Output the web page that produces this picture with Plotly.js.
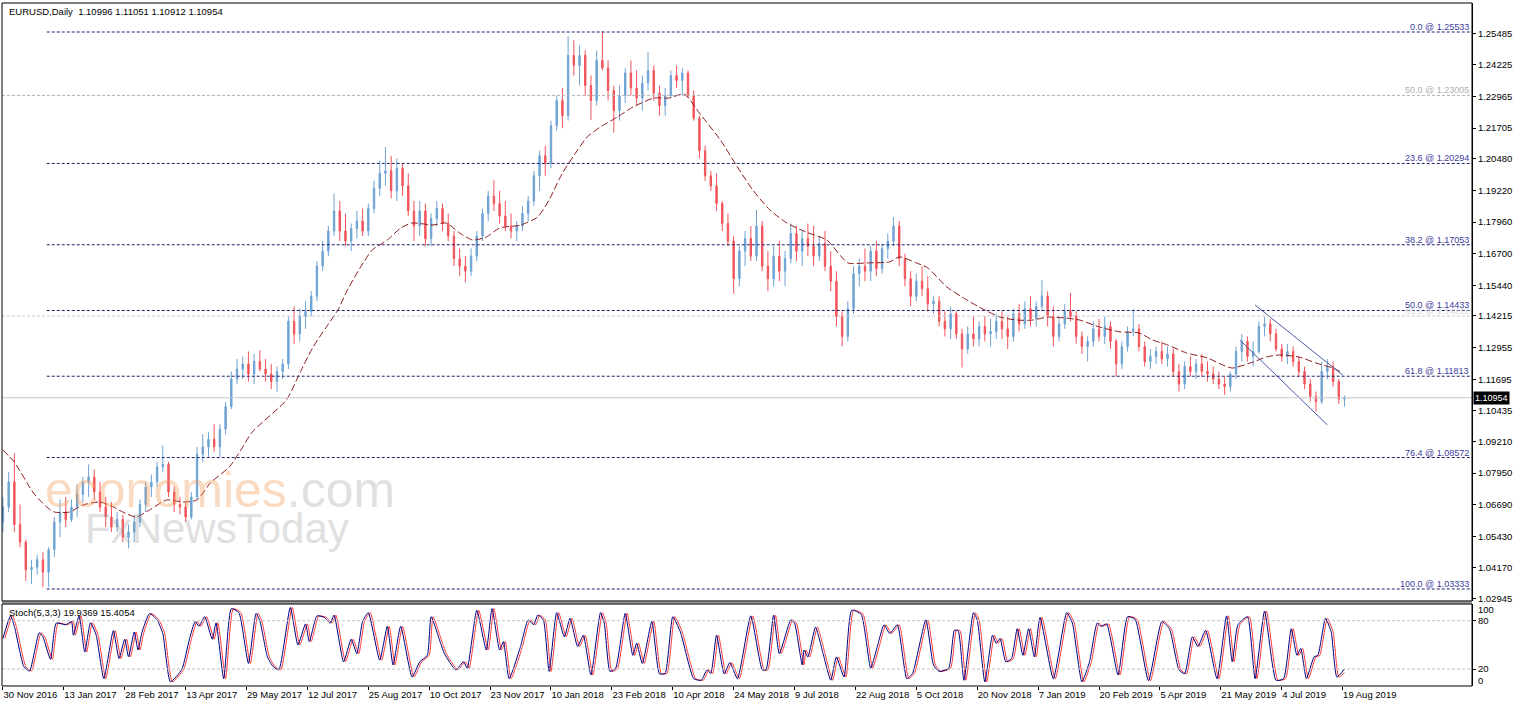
<!DOCTYPE html>
<html>
<head>
<meta charset="utf-8">
<script src="https://cdn.plot.ly/plotly-3.0.1.min.js"></script>
<style>
  html, body { margin: 0; padding: 0; background: #fff; }
  #chart { width: 1515px; height: 706px; }
</style>
</head>
<body>
<div id="chart"></div>
<script>
// EURUSD daily, one candle per 3 bars, prices x 10000
const barStep = 3;
const openP = [
  10600,10660,10760,10590,10520,10410,10420,10450,10400,10490,
  10600,10640,10610,10660,10710,10760,10780,10720,10660,10620,
  10580,10610,10540,10560,10600,10670,10740,10760,10820,10830,
  10720,10670,10660,10620,10700,10870,10900,10930,10900,10970,
  11060,11170,11210,11230,11190,11240,11210,11190,11160,11200,
  11230,11400,11350,11420,11440,11500,11620,11680,11760,11840,
  11760,11720,11770,11800,11760,11850,11930,11990,12000,11920,
  12010,11940,11840,11780,11840,11730,11810,11850,11790,11740,
  11650,11620,11600,11660,11740,11830,11900,11870,11820,11780,
  11760,11780,11830,11880,11980,12060,12030,12180,12280,12220,
  12460,12420,12460,12340,12280,12440,12410,12320,12240,12300,
  12390,12330,12290,12350,12400,12310,12260,12300,12380,12360,
  12390,12300,12210,12080,11980,11940,11870,11790,11720,11570,
  11680,11730,11660,11780,11620,11570,11660,11600,11650,11750,
  11680,11730,11700,11660,11710,11620,11560,11420,11340,11450,
  11590,11620,11600,11680,11610,11690,11720,11780,11650,11570,
  11500,11560,11530,11470,11480,11400,11370,11430,11350,11290,
  11350,11330,11380,11350,11360,11400,11370,11340,11430,11390,
  11450,11410,11460,11500,11420,11340,11390,11440,11420,11340,
  11300,11320,11370,11340,11380,11320,11230,11300,11360,11370,
  11300,11240,11260,11280,11250,11270,11200,11150,11220,11200,
  11230,11200,11190,11170,11150,11140,11190,11280,11320,11260,
  11280,11380,11390,11350,11290,11260,11280,11240,11200,11150,
  11100,11080,11200,11220,11160,11090
];
const highP = [
  10700,10800,10875,10670,10530,10450,10470,10480,10500,10620,
  10690,10700,10690,10750,10780,10830,10810,10760,10700,10680,
  10640,10630,10590,10630,10690,10760,10790,10840,10906,10840,
  10740,10700,10680,10720,10900,10950,10960,10990,10990,11080,
  11200,11250,11260,11280,11270,11285,11250,11230,11220,11250,
  11420,11460,11450,11480,11520,11640,11720,11780,11910,11880,
  11830,11790,11840,11850,11870,11960,12040,12095,12060,12050,
  12030,11990,11880,11880,11870,11830,11880,11870,11830,11760,
  11690,11660,11690,11760,11850,11920,11962,11920,11880,11830,
  11800,11860,11900,12000,12080,12100,12200,12300,12330,12537,
  12520,12500,12480,12380,12480,12556,12440,12340,12340,12410,
  12440,12400,12380,12474,12420,12340,12330,12400,12420,12410,
  12400,12320,12220,12100,12000,11990,11880,11830,11740,11700,
  11760,11780,11844,11800,11680,11700,11720,11680,11790,11780,
  11760,11790,11780,11740,11760,11680,11600,11440,11480,11620,
  11650,11690,11700,11720,11710,11750,11815,11800,11670,11600,
  11590,11620,11580,11500,11500,11440,11460,11440,11370,11380,
  11420,11400,11420,11410,11430,11440,11420,11450,11470,11480,
  11500,11480,11565,11520,11460,11420,11470,11513,11440,11360,
  11340,11400,11410,11420,11400,11330,11320,11380,11448,11390,
  11320,11290,11300,11320,11300,11290,11230,11240,11260,11250,
  11270,11240,11220,11200,11180,11200,11300,11350,11340,11320,
  11400,11418,11410,11370,11310,11310,11300,11260,11220,11170,
  11120,11240,11250,11240,11170,11105
];
const lowP = [
  10560,10640,10560,10500,10365,10352,10390,10340,10341,10460,
  10540,10580,10600,10620,10680,10700,10690,10640,10580,10560,
  10560,10520,10495,10520,10580,10640,10700,10740,10800,10700,
  10640,10630,10600,10610,10690,10840,10860,10880,10860,10950,
  11050,11150,11170,11160,11150,11200,11160,11130,11120,11170,
  11210,11310,11320,11370,11420,11480,11600,11660,11740,11720,
  11700,11680,11730,11740,11740,11830,11900,11940,11890,11880,
  11900,11820,11720,11740,11700,11700,11780,11760,11720,11620,
  11580,11555,11580,11640,11720,11800,11840,11790,11760,11730,
  11720,11760,11800,11860,11920,11980,12010,12160,12170,12200,
  12380,12340,12300,12203,12260,12400,12280,12152,12200,12270,
  12300,12260,12240,12320,12280,12220,12220,12290,12330,12300,
  12290,12200,12050,11960,11920,11840,11760,11700,11510,11540,
  11620,11640,11640,11600,11520,11540,11560,11540,11630,11640,
  11620,11660,11620,11640,11600,11520,11380,11300,11320,11430,
  11540,11560,11560,11580,11590,11650,11700,11620,11540,11460,
  11480,11500,11440,11430,11380,11340,11330,11330,11216,11270,
  11300,11300,11320,11300,11330,11330,11290,11320,11360,11370,
  11380,11380,11440,11380,11300,11320,11370,11400,11310,11270,
  11240,11300,11320,11310,11290,11180,11210,11280,11340,11280,
  11220,11210,11230,11230,11220,11180,11120,11130,11180,11170,
  11180,11160,11150,11130,11107,11120,11170,11240,11240,11220,
  11270,11340,11320,11280,11240,11230,11220,11180,11130,11080,
  11040,11070,11170,11140,11070,11060
];
const closeP = [
  10660,10760,10590,10520,10410,10420,10450,10400,10490,10600,
  10640,10610,10660,10710,10760,10780,10720,10660,10620,10580,
  10610,10540,10560,10600,10670,10740,10760,10820,10830,10720,
  10670,10660,10620,10700,10870,10900,10930,10900,10970,11060,
  11170,11210,11230,11190,11240,11210,11190,11160,11200,11230,
  11400,11350,11420,11440,11500,11620,11680,11760,11840,11760,
  11720,11770,11800,11760,11850,11930,11990,12000,11920,12010,
  11940,11840,11780,11840,11730,11810,11850,11790,11740,11650,
  11620,11600,11660,11740,11830,11900,11870,11820,11780,11760,
  11780,11830,11880,11980,12060,12030,12180,12280,12220,12460,
  12420,12460,12340,12280,12440,12410,12320,12240,12300,12390,
  12330,12290,12350,12400,12310,12260,12300,12380,12360,12390,
  12300,12210,12080,11980,11940,11870,11790,11720,11570,11680,
  11730,11660,11780,11620,11570,11660,11600,11650,11750,11680,
  11730,11700,11660,11710,11620,11560,11420,11340,11450,11590,
  11620,11600,11680,11610,11690,11720,11780,11650,11570,11500,
  11560,11530,11470,11480,11400,11370,11430,11350,11290,11350,
  11330,11380,11350,11360,11400,11370,11340,11430,11390,11450,
  11410,11460,11500,11420,11340,11390,11440,11420,11340,11300,
  11320,11370,11340,11380,11320,11230,11300,11360,11370,11300,
  11240,11260,11280,11250,11270,11200,11150,11220,11200,11230,
  11200,11190,11170,11150,11140,11190,11280,11320,11260,11280,
  11380,11390,11350,11290,11260,11280,11240,11200,11150,11100,
  11080,11200,11220,11160,11090,11095
];

// moving average (bar index, price)
const maX = [0,6,16,23,27,35,42,51,58,63,70,77,86,95,102,109,119,125,131,149,
  156,163,170,176,181,188,194,202,209,215,226,233,240,247,254,261,272,281,287,294,
  302,307,314,323,331,342,350,358,366,377,386,394,403,412,422,433,444,454,466,471,
  480,486,496,504,513,524,533,541,549,559,566,576,587,597,604,612,622,633,641,646,
  657,664,671,681,690,699,704];
const maY = [1.0887,1.0839,1.0716,1.0660,1.0640,1.0640,1.0668,1.0680,1.0660,1.0640,
  1.0620,1.0648,1.0688,1.0680,1.0688,1.0756,1.0820,1.0887,1.0959,1.1087,
  1.1194,1.1298,1.1378,1.1445,1.1525,1.1617,1.1684,1.1724,1.1772,1.1792,
  1.1784,1.1792,1.1752,1.1724,1.1736,1.1772,1.1784,1.1816,1.1884,1.1991,
  1.2083,1.2135,1.2175,1.2215,1.2254,1.2290,1.2290,1.2306,1.2230,1.2123,
  1.2015,1.1924,1.1844,1.1792,1.1756,1.1724,1.1633,1.1633,1.1637,1.1657,
  1.1633,1.1613,1.1537,1.1497,1.1457,1.1417,1.1405,1.1405,1.1417,1.1413,
  1.1405,1.1378,1.1358,1.1354,1.1326,1.1306,1.1274,1.1254,1.1226,1.1214,
  1.1238,1.1258,1.1266,1.1258,1.1234,1.1214,1.1194];

// falling channel drawn in Jun-Aug 2019
const channelUpperX = [658, 704];
const channelUpperY = [1.14652, 1.11862];
const channelLowerX = [650, 696];
const channelLowerY = [1.13257, 1.09870];

// Fibonacci retracement
const fibStartBar = 23;
const fibPct = ['0.0', '23.6', '38.2', '50.0', '61.8', '76.4', '100.0'];
const fibLevel = [1.25533, 1.20294, 1.17053, 1.14433, 1.11813, 1.08572, 1.03333];
const greyFibPct = ['50.0', '61.8'];
const greyFibLevel = [1.23005, 1.14212];
const lastPrice = 1.10954;

// stochastic (5,3,3) turning points
const stochX = [
  0,4,6,11,14,19,21,25,28,33,
  36,37,40,43,46,49,53,58,61,64,
  66,69,71,73,77,81,84,88,94,98,
  101,103,106,110,112,116,120,124,129,133,
  135,139,142,145,151,155,159,161,165,169,
  172,174,179,183,186,189,192,198,202,205,
  209,215,219,223,225,230,232,238,242,244,
  249,254,257,261,263,266,272,276,279,281,
  284,287,291,295,298,302,305,309,314,316,
  319,322,327,331,333,336,341,345,348,352,
  356,363,367,370,372,375,379,382,386,393,
  399,401,405,408,414,416,420,421,423,427,
  431,435,438,442,446,451,456,459,463,466,
  470,475,478,485,489,492,497,500,502,505,
  510,512,516,520,522,524,527,530,533,536,
  539,542,545,552,559,562,567,571,575,577,
  580,586,591,595,602,609,613,618,621,625,
  628,632,638,643,646,649,654,658,663,669,
  673,677,680,682,685,689,691,695,698,701,
  705
];
const stochK = [
  58,86,73,23,17.5,65,60,32,77,75,
  79,62,86,41,77.5,62,8,67.6,33,57,
  35,66,43.6,65,89,81,64,4,19.6,57,
  79,73,85,57,77.5,8,95,90,27,89,
  80,35,23,19,96.5,50,76,54,86,84,
  77,87,29,57,39,79,90,31,73,25,
  73,10,29,37,85,52,39,19,29,21,
  93,43.6,95,43.6,54,8,48,81,75,87,
  81,17,90,60,83,48,62,12.5,90,77,
  17,21,89,37,52,27,79,14,14.6,85,
  66,8,6,19,14.6,62,14,28,8,86,
  19,19,87,39,81,77,25,43.6,35,72,
  39,6,35,10,93,88,21,43.6,75,64,
  75,8,14.6,81,25,17,21,68,67.6,6,
  90,81,4,62,52,58,29,33,70,37,
  70,35,84,8,90,77,4,29,77,73,
  76,12.5,85,81.6,5.5,79,70,19,14,60,
  48,68,8,86,29,75,85,8,92,6,
  8,70,37,45.6,8,35,37,83,66,10,
  19.94
];
const stochDLag = 1;
const stochDLast = 15.41;

const xTickBars = [0,32,64,96,128,160,192,224,256,288,320,352,384,416,448,480,512,544,576,608,640,672,704];
const xTickLabels = ['30 Nov 2016','13 Jan 2017','28 Feb 2017','13 Apr 2017','29 May 2017','12 Jul 2017',
  '25 Aug 2017','10 Oct 2017','23 Nov 2017','10 Jan 2018','23 Feb 2018','10 Apr 2018','24 May 2018',
  '9 Jul 2018','22 Aug 2018','5 Oct 2018','20 Nov 2018','7 Jan 2019','20 Feb 2019','5 Apr 2019',
  '21 May 2019','4 Jul 2019','19 Aug 2019'];
const priceTicks = [1.25485,1.24225,1.22965,1.21705,1.20480,1.19220,1.17960,1.16700,1.15440,1.14215,
  1.12955,1.11695,1.10435,1.09210,1.07950,1.06690,1.05430,1.04170,1.02945];
const stochTicks = [80, 20];
const stochEdgeTicks = [100, 0];

const toPrice = v => v / 10000;
const candleX = openP.map((_, k) => k * barStep);
const xMax = 772;

const FONT = 'Liberation Sans, Arial, sans-serif';
const UP = '#6fa3d4';
const DOWN = '#f2545b';

const traces = [
  {
    type: 'candlestick',
    x: candleX,
    open: openP.map(toPrice),
    high: highP.map(toPrice),
    low: lowP.map(toPrice),
    close: closeP.map(toPrice),
    xaxis: 'x', yaxis: 'y',
    increasing: { line: { color: UP, width: 1 }, fillcolor: UP },
    decreasing: { line: { color: DOWN, width: 1 }, fillcolor: DOWN },
    whiskerwidth: 0,
    hoverinfo: 'skip'
  },
  {
    type: 'scatter', mode: 'lines',
    x: maX, y: maY,
    xaxis: 'x', yaxis: 'y',
    line: { color: '#8b1a1a', width: 1, dash: '7px,3px', shape: 'spline', smoothing: 0.6 },
    hoverinfo: 'skip'
  },
  {
    type: 'scatter', mode: 'lines',
    x: channelUpperX, y: channelUpperY,
    xaxis: 'x', yaxis: 'y',
    line: { color: '#4c5aa6', width: 1 },
    hoverinfo: 'skip'
  },
  {
    type: 'scatter', mode: 'lines',
    x: channelLowerX, y: channelLowerY,
    xaxis: 'x', yaxis: 'y',
    line: { color: '#4c5aa6', width: 1 },
    hoverinfo: 'skip'
  },
  {
    type: 'scatter', mode: 'lines',
    x: stochX.map(v => Math.min(v + stochDLag, stochX[stochX.length - 1])),
    y: stochK.map((v, i) => (i === stochK.length - 1 ? stochDLast : v)),
    xaxis: 'x', yaxis: 'y2',
    line: { color: '#ff3b3b', width: 1, shape: 'spline', smoothing: 0.5 },
    hoverinfo: 'skip'
  },
  {
    type: 'scatter', mode: 'lines',
    x: stochX, y: stochK,
    xaxis: 'x', yaxis: 'y2',
    line: { color: '#000080', width: 1, shape: 'spline', smoothing: 0.5 },
    hoverinfo: 'skip'
  }
];

const MAIN_BOTTOM = 0.1245;
const STOCH_TOP = 0.12;

const shapes = [];
const annotations = [];

// grey retracement lines across the whole width
greyFibLevel.forEach((lvl, i) => {
  shapes.push({ type: 'line', xref: 'x', yref: 'y', x0: -0.5, x1: xMax, y0: lvl, y1: lvl,
    line: { color: i === 0 ? '#b4b4b4' : '#c8c8d4', width: 1, dash: '3px,2px' } });
  annotations.push({ xref: 'paper', yref: 'y', x: 1, y: lvl, xanchor: 'right', yanchor: 'bottom',
    xshift: -1, yshift: -2, showarrow: false, text: greyFibPct[i] + ' @ ' + lvl.toFixed(5),
    font: { family: FONT, size: 9, color: i === 0 ? '#b0b0b0' : '#dcdce4' } });
});

// main Fibonacci levels
fibLevel.forEach((lvl, i) => {
  shapes.push({ type: 'line', xref: 'x', yref: 'y', x0: fibStartBar, x1: xMax, y0: lvl, y1: lvl,
    line: { color: '#1e1e6e', width: 1, dash: '3px,2px' } });
  annotations.push({ xref: 'paper', yref: 'y', x: 1, y: lvl, xanchor: 'right', yanchor: 'bottom',
    xshift: -1, yshift: -2, showarrow: false, text: fibPct[i] + ' @ ' + lvl.toFixed(5),
    font: { family: FONT, size: 9, color: '#3c3c9a' } });
});

// last price line and tag
shapes.push({ type: 'line', xref: 'x', yref: 'y', x0: -0.5, x1: xMax, y0: lastPrice, y1: lastPrice,
  line: { color: '#c8c8c8', width: 1 } });
annotations.push({ xref: 'paper', yref: 'y', x: 1, y: lastPrice, xanchor: 'left', yanchor: 'middle',
  xshift: 1, showarrow: false, text: lastPrice.toFixed(5), bgcolor: '#000', borderpad: 1,
  font: { family: FONT, size: 9, color: '#fff' } });

// stochastic levels and edge labels
stochTicks.forEach(lvl => {
  shapes.push({ type: 'line', xref: 'x', yref: 'y2', x0: -0.5, x1: xMax, y0: lvl, y1: lvl,
    line: { color: '#c0c0c0', width: 1, dash: '3px,2px' } });
});
stochEdgeTicks.forEach(lvl => {
  annotations.push({ xref: 'paper', yref: 'y2', x: 1, y: lvl, xanchor: 'left',
    yanchor: lvl > 50 ? 'top' : 'bottom', xshift: 4, yshift: lvl > 50 ? 3 : -3, showarrow: false,
    text: String(lvl), font: { family: FONT, size: 9.5, color: '#000' } });
});

// panel frames and separator
shapes.push({ type: 'rect', xref: 'paper', yref: 'paper', x0: 0, x1: 1, y0: STOCH_TOP, y1: MAIN_BOTTOM,
  fillcolor: '#a0a0a0', line: { width: 0 }, layer: 'above' });
shapes.push({ type: 'rect', xref: 'paper', yref: 'paper', x0: 0, x1: 1, y0: MAIN_BOTTOM, y1: 1,
  line: { color: '#000', width: 1 }, layer: 'above' });
shapes.push({ type: 'rect', xref: 'paper', yref: 'paper', x0: 0, x1: 1, y0: 0, y1: STOCH_TOP,
  line: { color: '#000', width: 1 }, layer: 'above' });

// texts
annotations.push({ xref: 'paper', yref: 'paper', x: 0, y: 1, xanchor: 'left', yanchor: 'top',
  xshift: 5, yshift: -1, showarrow: false,
  text: 'EURUSD,Daily\u00a0\u00a01.10996 1.11051 1.10912 1.10954',
  font: { family: FONT, size: 9.5, color: '#000' } });
annotations.push({ xref: 'paper', yref: 'paper', x: 0, y: STOCH_TOP, xanchor: 'left', yanchor: 'top',
  xshift: 5, yshift: -1, showarrow: false,
  text: 'Stoch(5,3,3) 19.9369 15.4054',
  font: { family: FONT, size: 9.5, color: '#000' } });

// watermarks
annotations.push({ xref: 'paper', yref: 'paper', x: 0.148, y: 0.287, xanchor: 'center', yanchor: 'middle',
  showarrow: false, opacity: 0.38,
  text: '<span style="color:#f6a060">economies</span><span style="color:#b0b0b0">.com</span>',
  font: { family: FONT, size: 50 } });
annotations.push({ xref: 'paper', yref: 'paper', x: 0.146, y: 0.231, xanchor: 'center', yanchor: 'middle',
  showarrow: false, opacity: 0.32, text: 'FxNewsToday',
  font: { family: FONT, size: 42, color: '#a0a0a0' } });

const layout = {
  width: 1515,
  height: 706,
  margin: { l: 2, r: 43, t: 3, b: 20 },
  paper_bgcolor: '#fff',
  plot_bgcolor: '#fff',
  showlegend: false,
  boxgap: 0.65,
  xaxis: {
    range: [-0.5, xMax],
    anchor: 'y2',
    tickvals: xTickBars,
    ticktext: xTickLabels,
    tickangle: 0,
    ticks: 'outside', ticklen: 3, tickcolor: '#000',
    ticklabelposition: 'outside right',
    tickfont: { family: FONT, size: 9.5, color: '#000' },
    showgrid: false, zeroline: false, showline: false,
    rangeslider: { visible: false },
    fixedrange: true
  },
  yaxis: {
    domain: [MAIN_BOTTOM, 1],
    range: [1.02855, 1.26689],
    side: 'right',
    tickvals: priceTicks,
    ticktext: priceTicks.map(v => v.toFixed(5)),
    ticks: 'outside', ticklen: 3, tickcolor: '#000',
    tickfont: { family: FONT, size: 9.5, color: '#000' },
    showgrid: false, zeroline: false,
    showline: true, linecolor: '#000', linewidth: 1,
    fixedrange: true
  },
  yaxis2: {
    domain: [0, STOCH_TOP],
    range: [-1.1, 100.7],
    side: 'right',
    tickvals: stochTicks,
    ticktext: stochTicks.map(String),
    ticks: 'outside', ticklen: 3, tickcolor: '#000',
    tickfont: { family: FONT, size: 9.5, color: '#000' },
    showgrid: false, zeroline: false,
    showline: true, linecolor: '#000', linewidth: 1,
    fixedrange: true
  },
  shapes: shapes,
  annotations: annotations
};

Plotly.newPlot('chart', traces, layout, { displayModeBar: false, staticPlot: true });
</script>
</body>
</html>
